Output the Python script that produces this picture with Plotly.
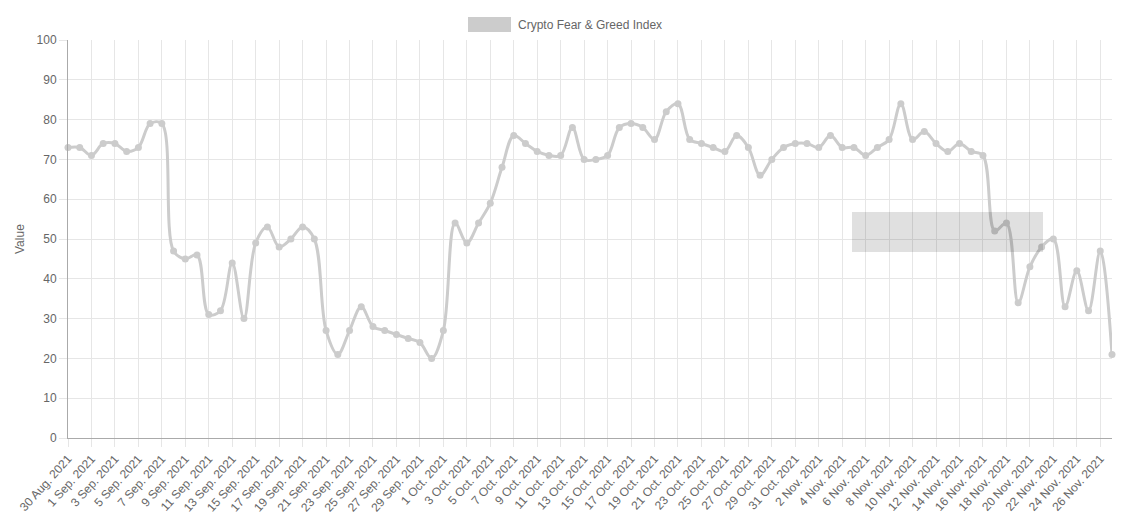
"""Crypto Fear & Greed Index, Aug-Nov 2021."""
import pandas as pd
import plotly.graph_objects as go

dates = pd.date_range("2021-08-30", "2021-11-27", freq="D")
labels = [f"{d.day} {d.strftime('%b')}. {d.year}" for d in dates]

values = [
    73, 73, 71, 74, 74, 72, 73, 79, 79, 47,
    45, 46, 31, 32, 44, 30, 49, 53, 48, 50,
    53, 50, 27, 21, 27, 33, 28, 27, 26, 25,
    24, 20, 27, 54, 49, 54, 59, 68, 76, 74,
    72, 71, 71, 78, 70, 70, 71, 78, 79, 78,
    75, 82, 84, 75, 74, 73, 72, 76, 73, 66,
    70, 73, 74, 74, 73, 76, 73, 73, 71, 73,
    75, 84, 75, 77, 74, 72, 74, 72, 71, 52,
    54, 34, 43, 48, 50, 33, 42, 32, 47, 21,
]
series_name = "Crypto Fear & Greed Index"
y_ticks = list(range(0, 101, 10))

FONT = "Liberation Sans, Arial, Helvetica, sans-serif"
LINE = "#cccccc"
GRID = "#e6e6e6"

# plot box in page pixels (page body adds an 8px offset)
PX0, PX1, PY0, PY1 = 68, 1112, 40, 438
PW, PH = PX1 - PX0, PY1 - PY0


def px(x):
    return (x - PX0) / PW


def py(y):
    return (PY1 - y) / PH


fig = go.Figure()
fig.add_trace(go.Scatter(
    x=labels, y=values, mode="lines+markers", name=series_name,
    line=dict(color=LINE, width=3, shape="spline", smoothing=1.0),
    marker=dict(color=LINE, size=7),
    showlegend=False,
    cliponaxis=False,
))

# legend drawn chart.js style: wide box + label
fig.add_shape(type="rect", xref="paper", yref="paper",
              x0=px(468), x1=px(511), y0=py(32), y1=py(17),
              fillcolor=LINE, line=dict(width=0))
fig.add_annotation(text=series_name, xref="paper", yref="paper",
                   x=px(516), y=py(24.5),
                   xanchor="left", yanchor="middle", showarrow=False,
                   font=dict(size=12, color="#666666", family=FONT))

fig.add_annotation(text="Value", xref="paper", yref="paper",
                   x=px(20), y=0.5, textangle=-90,
                   xanchor="center", yanchor="middle", showarrow=False,
                   font=dict(size=12, color="#666666", family=FONT))

# faded tooltip left over from hovering
fig.add_shape(type="rect", xref="paper", yref="paper",
              x0=px(852), x1=px(1043), y0=py(252), y1=py(212),
              fillcolor="rgba(0,0,0,0.12)", line=dict(width=0), layer="above")

fig.update_layout(
    width=1117, height=506,
    margin=dict(l=60, r=13, t=32, b=76),
    paper_bgcolor="white", plot_bgcolor="white",
    font=dict(family=FONT, size=12, color="#666666"),
    xaxis=dict(
        type="category", range=[0, len(labels) - 1], automargin=False,
        tickmode="array", tickvals=labels[::2], ticktext=labels[::2],
        tickangle=-48, showgrid=True, gridcolor=GRID, gridwidth=1,
        ticks="outside", ticklen=8, tickcolor=GRID,
        showline=True, linecolor="#aaaaaa", linewidth=1,
        tickfont=dict(size=12, color="#666666"),
    ),
    yaxis=dict(
        range=[0, 100], tickvals=y_ticks, automargin=False,
        showgrid=True, gridcolor=GRID, gridwidth=1,
        ticks="outside", ticklen=8, tickcolor=GRID,
        showline=True, linecolor="#aaaaaa", linewidth=1,
        zeroline=False,
        tickfont=dict(size=12, color="#666666"),
    ),
)

fig.write_html("out.html")
